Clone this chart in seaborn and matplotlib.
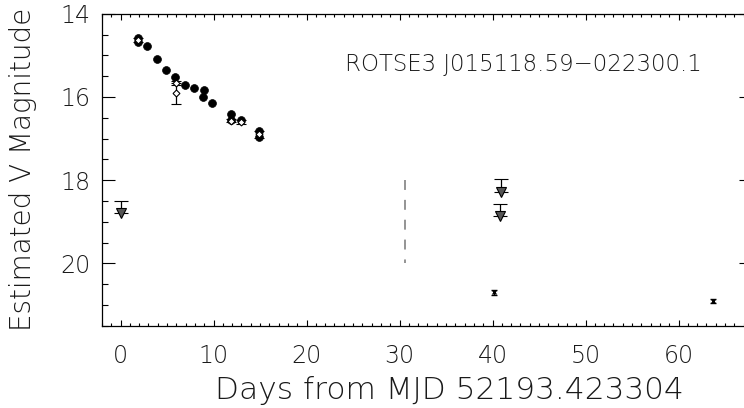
import seaborn as sns
import matplotlib
matplotlib.use("Agg")
import matplotlib.pyplot as plt
from matplotlib.ticker import MultipleLocator
import pandas as pd

# LIGHT CURVE DATA
det_days = [1.86, 1.86, 2.87, 3.87, 4.91, 5.88, 6.88, 7.88, 8.92, 8.85, 9.82, 11.83, 11.83, 12.94, 14.87, 14.87]
det_mags = [14.58, 14.69, 14.78, 15.08, 15.35, 15.51, 15.71, 15.79, 15.83, 16.01, 16.15, 16.42, 16.55, 16.55, 16.82, 16.97]

open_days = [1.86, 5.95, 5.95, 11.9, 12.94, 14.87]
open_mags = [14.63, 15.66, 15.91, 16.57, 16.6, 16.9]
open_errs = [0.04, 0.05, 0.25, 0.04, 0.04, 0.08]

lim_days = [0.0, 40.9, 40.85]
lim_mags = [18.8, 18.28, 18.87]
lim_bars = [18.5, 17.98, 18.58]

faint_days = [40.15, 63.7]
faint_mags = [20.70, 20.91]

line_day = 30.6
line_mags = [18.0, 20.0]

label_text = "ROTSE3 J015118.59\u2212022300.1"

# SET UP STYLE
sns.set_theme(style="ticks")
plt.rcParams['font.family'] = ['DejaVu Sans']
plt.rcParams['font.weight'] = 200
plt.rcParams['axes.linewidth'] = 0.9
plt.rcParams['xtick.direction'] = 'in'
plt.rcParams['ytick.direction'] = 'in'
plt.rcParams['text.color'] = '#1a1a1a'
plt.rcParams['axes.labelcolor'] = '#1a1a1a'
plt.rcParams['xtick.labelcolor'] = '#1a1a1a'
plt.rcParams['ytick.labelcolor'] = '#1a1a1a'
plt.rcParams['axes.labelweight'] = 200

det = pd.DataFrame({'day': det_days, 'mag': det_mags})

fig = plt.figure(figsize=(7.44, 4.08), dpi=100)
ax = fig.add_axes([0.1371, 0.2017, 0.8737, 0.7647])

# FILLED DETECTIONS
sns.scatterplot(data=det, x='day', y='mag', ax=ax, color='black', s=32,
                marker='o', edgecolor='black', linewidth=0.5, zorder=3)

# OPEN POINTS WITH ERROR BARS
ax.errorbar(open_days, open_mags, yerr=open_errs, fmt='D', ms=3.5, mfc='white',
            mec='black', mew=0.8, ecolor='black', elinewidth=0.9, capsize=3.5,
            capthick=0.9, zorder=4)

# UPPER LIMITS
lim_up = [m - b for m, b in zip(lim_mags, lim_bars)]
lim_zero = [0 for m in lim_mags]
ax.errorbar(lim_days, lim_mags, yerr=[lim_up, lim_zero], fmt='v', ms=6.5,
            mfc='#555555', mec='black', mew=0.8, ecolor='black',
            elinewidth=0.9, capsize=5, capthick=0.9, zorder=3)

# FAINT POINTS
ax.errorbar(faint_days, faint_mags, yerr=0.05, fmt='x', ms=3, color='black',
            elinewidth=0.9, capsize=2.5, capthick=0.9, mew=1.0, zorder=3)

# DASHED MARKER LINE
ax.plot([line_day, line_day], line_mags, color='#777777', lw=1.1,
        linestyle=(0, (6.5, 6.5)))

ax.text(24.1, 15.23, label_text, ha='left', va='center', fontsize=16.5,
        fontweight=200)

ax.set_xlim(-2, 67.9)
ax.set_ylim(21.5, 14)
ax.xaxis.set_major_locator(MultipleLocator(10))
ax.xaxis.set_minor_locator(MultipleLocator(1))
ax.yaxis.set_major_locator(MultipleLocator(2))
ax.yaxis.set_minor_locator(MultipleLocator(0.5))
ax.tick_params(axis='both', which='both', top=True, right=True, color='black',
               labelsize=17, width=0.8)
ax.tick_params(axis='x', which='major', length=4.3, pad=13)
ax.tick_params(axis='x', which='minor', length=2.2)
ax.tick_params(axis='y', which='major', length=9.4, pad=8)
ax.tick_params(axis='y', which='minor', length=4.3)

ax.set_xlabel("Days from MJD 52193.423304", fontsize=22.5, fontweight=200)
ax.set_ylabel("Estimated V Magnitude", fontsize=20, fontweight=200)
ax.xaxis.set_label_coords(0.534, -0.16)
ax.yaxis.set_label_coords(-0.10, 0.5)

for sp in ax.spines.values():
    sp.set_color('black')

fig.savefig("out.png", dpi=100)
